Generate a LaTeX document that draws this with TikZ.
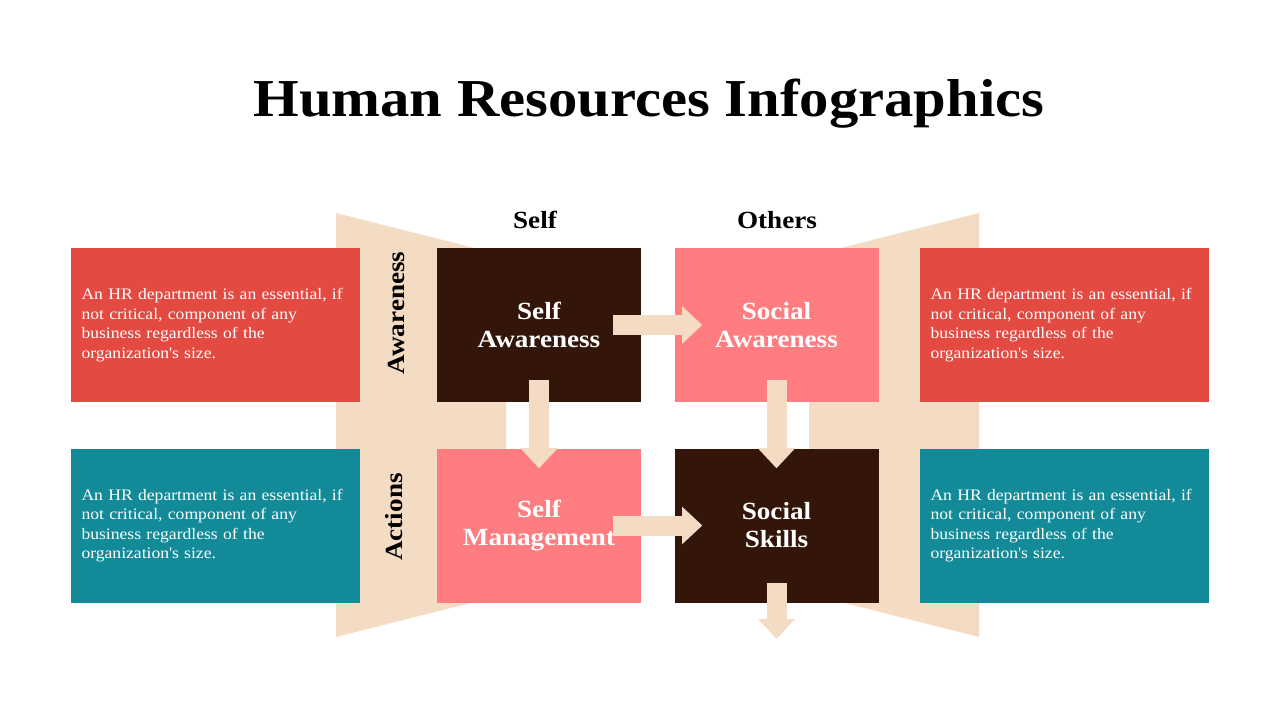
\documentclass[tikz,border=0pt]{standalone}
\usepackage{fontspec}
\setmainfont{Liberation Serif}[FakeStretch=1.1]
\usetikzlibrary{arrows.meta}
\definecolor{hrred}{HTML}{E24A42}
\definecolor{hrteal}{HTML}{138A98}
\definecolor{hrbrown}{HTML}{33150A}
\definecolor{hrpink}{HTML}{FF7D80}
\definecolor{hrbeige}{HTML}{F3DBC4}

\begin{document}
\begin{tikzpicture}[
		x=0.75pt,y=-0.75pt,
		infobox/.style={rectangle,fill=#1,minimum width=216.75pt,minimum height=115.5pt,
			inner sep=0pt,text width=201pt,align=left,text=white,
			font=\fontsize{12}{14.6}\selectfont},
		keybox/.style={rectangle,fill=#1,minimum width=153pt,minimum height=115.5pt,
			inner sep=0pt,align=center,text=white,font=\fontsize{18.5}{21}\selectfont\bfseries},
		flow/.style={draw=hrbeige,line width=15pt,-{Triangle[width=28pt,length=15pt,line width=0pt]}},
		head/.style={font=\fontsize{18.5}{20}\selectfont\bfseries},
		side/.style={head,rotate=90}]
		
		\useasboundingbox (0,0) rectangle (1280,720);
		
		\fill[hrbeige] (336,213) -- (506,256) -- (506,594) -- (336,637) -- cycle;
		\fill[hrbeige] (979,213) -- (809,256) -- (809,594) -- (979,637) -- cycle;
		
		\node[font=\fontsize{40}{46}\selectfont\bfseries] (title) at (649,104) {Human Resources Infographics};
		
		\node[head] (self)   at (535,220) {Self};
		\node[head] (others) at (777,220) {Others};
		\node[side] (aware)  at (396,313) {Awareness};
		\node[side] (act)    at (394,517) {Actions};
		
		\node[infobox=hrred]  (infoTL) at (215.5,325)   {An HR department is an essential, if\\not critical, component of any\\business regardless of the\\organization\textquotesingle s size.};
		\node[infobox=hrteal] (infoBL) at (215.5,525.5) {An HR department is an essential, if\\not critical, component of any\\business regardless of the\\organization\textquotesingle s size.};
		\node[infobox=hrred]  (infoTR) at (1064.5,325)   {An HR department is an essential, if\\not critical, component of any\\business regardless of the\\organization\textquotesingle s size.};
		\node[infobox=hrteal] (infoBR) at (1064.5,525.5) {An HR department is an essential, if\\not critical, component of any\\business regardless of the\\organization\textquotesingle s size.};
		
		\node[keybox=hrbrown] (selfaw) at (539,325)     {Self\\Awareness};
		\node[keybox=hrpink]  (socaw)  at (776.5,325)   {Social\\Awareness};
		\node[keybox=hrpink]  (selfmg) at (539,525.5)   {Self\\Management};
		\node[keybox=hrbrown] (socsk)  at (776.5,525.5) {Social\\Skills};
		
		\coordinate (out) at ([yshift=-27pt]socsk.south);
		
		\draw[flow] ([xshift=-21pt]selfaw.east) -- ([xshift=21pt]socaw.west);
		\draw[flow] ([xshift=-21pt]selfmg.east) -- ([xshift=21pt]socsk.west);
		\draw[flow] ([yshift=16.5pt]selfaw.south) -- ([yshift=-15pt]selfmg.north);
		\draw[flow] ([yshift=16.5pt]socaw.south) -- ([yshift=-15pt]socsk.north);
		\draw[flow] ([yshift=15pt]socsk.south) -- (out);
		
\end{tikzpicture}
\end{document}
